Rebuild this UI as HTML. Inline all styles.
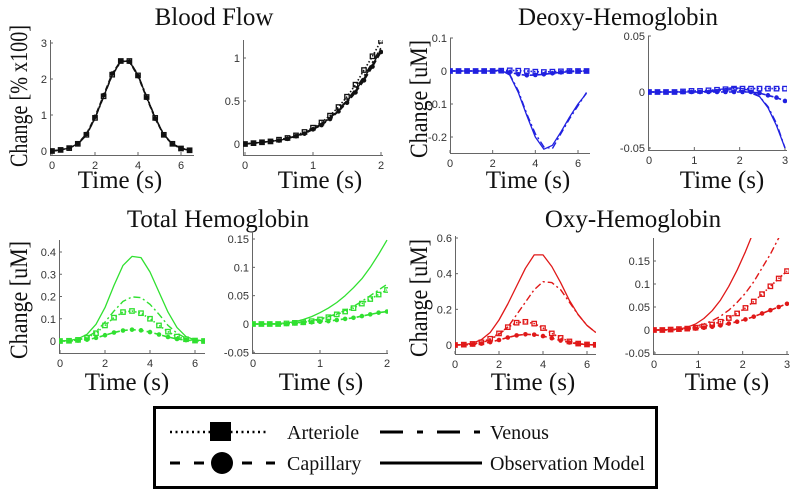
<!DOCTYPE html>
<html><head><meta charset="utf-8">
<style>
html,body{margin:0;padding:0;background:#fff;}
svg{display:block;}
.tick{font-family:"Liberation Sans",sans-serif;font-size:11px;fill:#333;}
.ser{font-family:"Liberation Serif",serif;fill:#111;}
</style></head>
<body>
<svg id="fig" width="800" height="496" viewBox="0 0 800 496" xmlns="http://www.w3.org/2000/svg">
  <text class="ser" x="214" y="25" font-size="25" text-anchor="middle">Blood Flow</text>
  <text class="ser" x="618" y="25" font-size="25" text-anchor="middle">Deoxy-Hemoglobin</text>
  <text class="ser" x="218" y="227" font-size="25" text-anchor="middle">Total Hemoglobin</text>
  <text class="ser" x="633" y="227" font-size="25" text-anchor="middle">Oxy-Hemoglobin</text>

  <text class="ser" font-size="25" text-anchor="middle" textLength="142" lengthAdjust="spacingAndGlyphs" transform="translate(27,96) rotate(-90)">Change [% x100]</text>
  <text class="ser" font-size="25" text-anchor="middle" textLength="118" lengthAdjust="spacingAndGlyphs" transform="translate(427,99) rotate(-90)">Change [uM]</text>
  <text class="ser" font-size="25" text-anchor="middle" textLength="118" lengthAdjust="spacingAndGlyphs" transform="translate(27,300) rotate(-90)">Change [uM]</text>
  <text class="ser" font-size="25" text-anchor="middle" textLength="118" lengthAdjust="spacingAndGlyphs" transform="translate(427,298) rotate(-90)">Change [uM]</text>

  <g id="panels"></g>

  <g>
    <rect x="154.5" y="407.5" width="502" height="80" fill="#fff" stroke="#000" stroke-width="3"/>
    <g>
      <line x1="170" y1="432" x2="268" y2="432" stroke="#000" stroke-width="2.5" stroke-dasharray="2 3.5"/>
      <rect x="210" y="422" width="21" height="19" fill="#000"/>
      <text class="ser" x="287" y="439" font-size="20">Arteriole</text>
    </g>
    <g>
      <line x1="170" y1="463" x2="275" y2="463" stroke="#000" stroke-width="3" stroke-dasharray="10 14"/>
      <circle cx="222" cy="463" r="11" fill="#000"/>
      <text class="ser" x="287" y="470" font-size="20">Capillary</text>
    </g>
    <g>
      <line x1="380" y1="432" x2="482" y2="432" stroke="#000" stroke-width="3" stroke-dasharray="23 14 6 14"/>
      <text class="ser" x="490" y="439" font-size="20">Venous</text>
    </g>
    <g>
      <line x1="380" y1="463" x2="482" y2="463" stroke="#000" stroke-width="3"/>
      <text class="ser" x="490" y="470" font-size="20">Observation Model</text>
    </g>
  </g>
</svg>
<script>
// time axes
const tLong = [0,0.4,0.8,1.2,1.6,2.0,2.4,2.8,3.2,3.6,4.0,4.4,4.8,5.2,5.6,6.0,6.4];
const tShort2 = [0,0.125,0.25,0.375,0.5,0.625,0.75,0.875,1.0,1.125,1.25,1.375,1.5,1.625,1.75,1.875,2.0];
const tShort3 = [0,0.1875,0.375,0.5625,0.75,0.9375,1.125,1.3125,1.5,1.6875,1.875,2.0625,2.25,2.4375,2.625,2.8125,3.0];

// Blood flow
const bfLeftArt = [0,0.03,0.08,0.2,0.45,0.92,1.52,2.12,2.5,2.5,2.1,1.5,0.92,0.45,0.2,0.07,0.02];
const bfLeftCap = [0,0.03,0.09,0.21,0.47,0.95,1.55,2.15,2.5,2.48,2.08,1.48,0.9,0.44,0.19,0.07,0.02];
const bfLeftVen = [0,0.03,0.08,0.19,0.44,0.9,1.5,2.1,2.48,2.5,2.12,1.52,0.93,0.46,0.2,0.08,0.02];
const bfLeftObs = [0,0.03,0.08,0.2,0.45,0.91,1.51,2.11,2.49,2.49,2.1,1.5,0.92,0.45,0.2,0.07,0.02];
const bfRightArt = [0,0.01,0.02,0.03,0.05,0.07,0.1,0.14,0.19,0.25,0.33,0.43,0.55,0.69,0.86,1.02,1.2];
const bfRightCap = [0,0.01,0.02,0.03,0.04,0.06,0.09,0.12,0.17,0.22,0.29,0.38,0.48,0.6,0.74,0.9,1.07];
const bfRightVen = [0,0.01,0.02,0.03,0.045,0.065,0.095,0.13,0.18,0.235,0.31,0.4,0.51,0.64,0.79,0.95,1.12];
const bfRightObs = [0,0.01,0.02,0.03,0.042,0.062,0.092,0.125,0.175,0.228,0.3,0.39,0.495,0.62,0.765,0.925,1.09];

// Deoxy-hemoglobin
const dxLeftArt = [0,0,0,0,0,0,0.001,0.002,0.001,0,-0.002,-0.003,-0.002,-0.001,0,0,0];
const dxLeftCap = [0,0,0,0,0,0,0,-0.004,-0.01,-0.013,-0.012,-0.01,-0.007,-0.004,-0.002,-0.001,0];
const dxLeftVen = [0,0,0,0,0,0,0.003,-0.01,-0.06,-0.13,-0.19,-0.23,-0.235,-0.19,-0.145,-0.105,-0.065];
const dxLeftObs = [0,0,0,0,0,0,0.002,-0.012,-0.065,-0.135,-0.2,-0.237,-0.225,-0.185,-0.14,-0.1,-0.068];
const dxRightArt = [0,0,0,0,0.0005,0.001,0.001,0.0015,0.002,0.0025,0.003,0.003,0.003,0.003,0.003,0.003,0.003];
const dxRightCap = [0,0,0,0,0,0,0,0,0,0,0,0,0,-0.001,-0.003,-0.005,-0.008];
const dxRightVen = [0,0,0,0,0,0,0,0,0.001,0.002,0.002,0.001,-0.001,-0.004,-0.013,-0.028,-0.05];
const dxRightObs = [0,0,0,0,0,0,0,0.001,0.002,0.003,0.004,0.003,0.001,-0.004,-0.014,-0.03,-0.05];

// Total hemoglobin
const thLeftArt = [0,0.001,0.005,0.015,0.035,0.07,0.105,0.13,0.135,0.125,0.1,0.07,0.042,0.02,0.008,0.002,0];
const thLeftCap = [0,0,0.002,0.006,0.014,0.026,0.038,0.047,0.051,0.048,0.04,0.029,0.018,0.009,0.004,0.001,0];
const thLeftVen = [0,0.001,0.006,0.018,0.042,0.085,0.135,0.178,0.198,0.195,0.165,0.12,0.07,0.035,0.012,0.003,0.001];
const thLeftObs = [0,0.002,0.01,0.03,0.075,0.15,0.25,0.34,0.38,0.375,0.31,0.22,0.13,0.06,0.02,0.005,0.001];
const thRightArt = [0,0,0,0,0.001,0.002,0.003,0.005,0.008,0.012,0.017,0.022,0.028,0.036,0.044,0.052,0.06];
const thRightCap = [0,0,0,0,0,0.001,0.002,0.003,0.004,0.005,0.007,0.009,0.011,0.014,0.017,0.02,0.022];
const thRightVen = [0,0,0,0,0.001,0.002,0.004,0.006,0.009,0.013,0.018,0.024,0.031,0.04,0.05,0.06,0.07];
const thRightObs = [0,0,0,0.001,0.002,0.004,0.008,0.013,0.02,0.028,0.038,0.05,0.064,0.08,0.1,0.123,0.148];

// Oxy-hemoglobin
const oxLeftArt = [0,0.002,0.006,0.015,0.035,0.065,0.1,0.125,0.13,0.12,0.095,0.065,0.04,0.02,0.008,0.003,0.001];
const oxLeftCap = [0,0.001,0.003,0.008,0.016,0.028,0.042,0.054,0.06,0.058,0.05,0.038,0.025,0.014,0.006,0.002,0];
const oxLeftVen = [0,0.001,0.004,0.012,0.03,0.06,0.1,0.17,0.24,0.31,0.355,0.35,0.31,0.24,0.17,0.11,0.07];
const oxLeftObs = [0,0.002,0.01,0.03,0.07,0.14,0.23,0.33,0.43,0.505,0.505,0.44,0.35,0.25,0.17,0.11,0.07];
const oxRightArt = [0,0,0.001,0.002,0.003,0.005,0.008,0.012,0.018,0.026,0.036,0.048,0.062,0.078,0.095,0.112,0.128];
const oxRightCap = [0,0,0,0.001,0.002,0.003,0.005,0.007,0.01,0.014,0.018,0.023,0.029,0.036,0.043,0.05,0.057];
const oxRightVen = [0,0,0.001,0.002,0.004,0.008,0.013,0.02,0.03,0.043,0.06,0.08,0.105,0.135,0.165,0.2,0.24];
const oxRightObs = [0,0,0.001,0.002,0.006,0.013,0.025,0.042,0.065,0.095,0.13,0.17,0.215,0.26,0.31,0.36,0.41];

// tick labels
const ticksBfLeftY = [0,1,2,3];
const ticksBfRightY = [0,0.5,1];
const ticksDxLeftY = [0.1,0,-0.1,-0.2];
const ticksDxRightY = [0.05,0,-0.05];
const ticksThLeftY = [0,0.1,0.2,0.3,0.4];
const ticksThRightY = [-0.05,0,0.05,0.1,0.15];
const ticksOxLeftY = [0,0.2,0.4,0.6];
const ticksOxRightY = [-0.05,0,0.05,0.1,0.15];
const ticksLongX = [0,2,4,6];
const ticksX2 = [0,1,2];
const ticksX3 = [0,1,2,3];

const SVGNS = "http://www.w3.org/2000/svg";
const root = document.getElementById('panels');
function mk(tag, attrs, parent){
  const e = document.createElementNS(SVGNS, tag);
  for (const k in attrs) e.setAttribute(k, attrs[k]);
  parent.appendChild(e);
  return e;
}
function fmt(v){ return String(v); }

const panels = [
  {name:'blood-flow-full', color:'#111', t:tLong, s:[bfLeftArt,bfLeftCap,bfLeftVen,bfLeftObs], xa:[0,52,6,181], ya:[0,151,3,43], box:[50,194,40,155], yt:ticksBfLeftY, xt:ticksLongX, xl:120, xly:188},
  {name:'blood-flow-zoom', color:'#111', t:tShort2, s:[bfRightArt,bfRightCap,bfRightVen,bfRightObs], xa:[0,245,2,381], ya:[0,144,1,58], box:[243,383,40,155], yt:ticksBfRightY, xt:ticksX2, xl:320, xly:188},
  {name:'deoxy-full', color:'#2020e0', t:tLong, s:[dxLeftArt,dxLeftCap,dxLeftVen,dxLeftObs], xa:[0,450,6,578], ya:[0,71,-0.2,137], box:[450,590,38,153], yt:ticksDxLeftY, xt:ticksLongX, xl:528, xly:188},
  {name:'deoxy-zoom', color:'#2020e0', t:tShort3, s:[dxRightArt,dxRightCap,dxRightVen,dxRightObs], xa:[0,649,3,785], ya:[0,92,0.05,36], box:[648,787,36,150], yt:ticksDxRightY, xt:ticksX3, xl:722, xly:188},
  {name:'total-full', color:'#30e030', t:tLong, s:[thLeftArt,thLeftCap,thLeftVen,thLeftObs], xa:[0,60,6,195], ya:[0,341,0.4,252], box:[59,205,240,353], yt:ticksThLeftY, xt:ticksLongX, xl:127, xly:390},
  {name:'total-zoom', color:'#30e030', t:tShort2, s:[thRightArt,thRightCap,thRightVen,thRightObs], xa:[0,253,2,387], ya:[0,324,0.15,239], box:[252,388,232,353], yt:ticksThRightY, xt:ticksX2, xl:321, xly:390},
  {name:'oxy-full', color:'#e01818', t:tLong, s:[oxLeftArt,oxLeftCap,oxLeftVen,oxLeftObs], xa:[0,455,6,587], ya:[0,345,0.6,238], box:[455,596,236,354], yt:ticksOxLeftY, xt:ticksLongX, xl:533, xly:390},
  {name:'oxy-zoom', color:'#e01818', t:tShort3, s:[oxRightArt,oxRightCap,oxRightVen,oxRightObs], xa:[0,654,3,787], ya:[0,330,0.15,261], box:[653,789,238,354], yt:ticksOxRightY, xt:ticksX3, xl:727, xly:390}
];
const styles = [
  {key:'arteriole', dash:'1.5 2', w:1.6, marker:'square'},
  {key:'capillary', dash:'5 3', w:1.6, marker:'circle'},
  {key:'venous', dash:'7 3 2 3', w:1.4, marker:null},
  {key:'observation', dash:null, w:1.3, marker:null}
];

panels.forEach((p, pi) => {
  const g = mk('g', {}, root);
  
  
  const sx = v => p.xa[1] + (v - p.xa[0]) * (p.xa[3] - p.xa[1]) / (p.xa[2] - p.xa[0]);
  const sy = v => p.ya[1] + (v - p.ya[0]) * (p.ya[3] - p.ya[1]) / (p.ya[2] - p.ya[0]);
  const [L, R, T, B] = p.box;
  const clipId = 'clip' + pi;
  const cp = mk('clipPath', {id: clipId}, g);
  mk('rect', {x: L, y: T, width: R - L, height: B - T}, cp);

  const yax = mk('line', {x1: L + 0.5, y1: T, x2: L + 0.5, y2: B, stroke: '#666', 'stroke-width': 1}, g);
  
  
  const xax = mk('line', {x1: L, y1: B + 0.5, x2: R, y2: B + 0.5, stroke: '#666', 'stroke-width': 1}, g);
  
  

  p.yt.forEach(v => {
    const y = sy(v);
    mk('line', {x1: L, y1: y, x2: L + 3, y2: y, stroke: '#666'}, g);
    const tx = mk('text', {x: L - 3, y: y + 4, 'text-anchor': 'end', class: 'tick'}, g);
    tx.textContent = fmt(v);
    
    
  });
  p.xt.forEach(v => {
    const x = sx(v);
    mk('line', {x1: x, y1: B, x2: x, y2: B - 3, stroke: '#666'}, g);
    const tx = mk('text', {x: x, y: B + 14, 'text-anchor': 'middle', class: 'tick'}, g);
    tx.textContent = fmt(v);
    
    
  });
  const xl = mk('text', {x: p.xl, y: p.xly, 'text-anchor': 'middle', class: 'ser', 'font-size': 25}, g);
  xl.textContent = 'Time (s)';
  
  

  const plot = mk('g', {'clip-path': 'url(#' + clipId + ')'}, g);
  p.s.forEach((vals, si) => {
    const st = styles[si];
    const pts = vals.map((v, i) => sx(p.t[i]).toFixed(1) + ',' + sy(v).toFixed(1)).join(' ');
    const a = {points: pts, fill: 'none', stroke: p.color, 'stroke-width': st.w, 'stroke-linejoin': 'round'};
    if (st.dash) a['stroke-dasharray'] = st.dash;
    const pl = mk('polyline', a, plot);
    
    
    if (st.marker) {
      vals.forEach((v, i) => {
        const x = sx(p.t[i]), y = sy(v);
        let m;
        if (st.marker === 'square') m = mk('rect', {x: x - 2.2, y: y - 2.2, width: 4.4, height: 4.4, fill: 'none', stroke: p.color, 'stroke-width': 1.3}, plot);
        else m = mk('circle', {cx: x, cy: y, r: 2.3, fill: p.color}, plot);
        
        
      });
    }
  });
});
</script>
</body></html>
